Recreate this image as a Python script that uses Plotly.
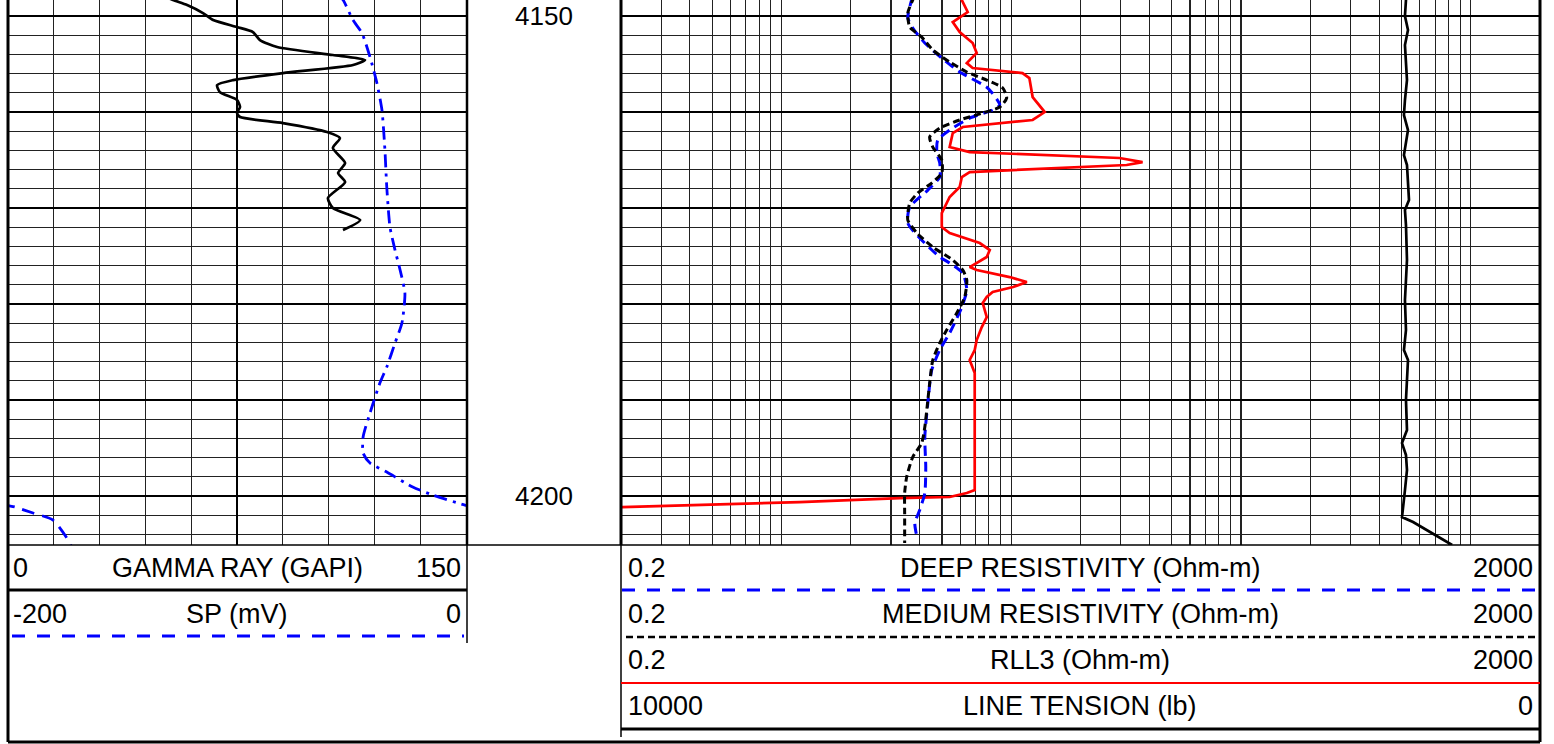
import math
import plotly.graph_objects as go

# ---------------- data ----------------
GR_DEPTH = [4147.9, 4148.33, 4148.85, 4149.69, 4150.42, 4151.15, 4151.67, 4152.5, 4153.23, 4154.06,
            4154.58, 4155.1, 4155.94, 4156.67, 4157.19, 4157.92, 4158.75, 4159.48, 4160.1, 4160.52,
            4161.15, 4162.08, 4162.71, 4163.75, 4165.31, 4166.35, 4167.29, 4168.96, 4170.0, 4171.25,
            4172.29]
GR = [51.0, 54.1, 58.7, 63.9, 67.2, 75.0, 80.2, 82.5, 88.1, 106.3,
      116.8, 112.9, 90.0, 73.7, 68.5, 69.4, 75.0, 76.0, 75.0, 76.0,
      90.0, 104.4, 108.6, 106.3, 110.3, 108.0, 110.3, 104.7, 106.3, 115.2,
      109.6]

SP_DEPTH = [4147.9, 4148.33, 4150.42, 4151.77, 4154.27, 4156.98, 4159.79, 4163.96, 4167.81, 4171.98,
            4174.38, 4176.46, 4178.85, 4181.98, 4184.06, 4186.56, 4188.23, 4191.35, 4193.85, 4195.52,
            4196.56, 4197.5, 4199.06, 4199.9, 4200.94, 4201.15, 4201.77, 4202.5, 4204.9, 4205.4]
SP = [-55.5, -53.8, -49.5, -45.6, -42.1, -39.1, -36.9, -35.6, -34.8, -33.4,
      -31.2, -29.0, -26.9, -28.2, -31.2, -34.8, -37.8, -42.1, -45.1, -45.1,
      -42.1, -34.8, -23.5, -14.7, -0.8, 3.4, 11.2, 19.9, 27.3, 28.0]

MED_DEPTH = [4148.0, 4148.33, 4149.69, 4151.15, 4152.19, 4153.54, 4154.79, 4155.83, 4156.67, 4157.5, 4158.54,
             4159.48, 4160.1, 4160.83, 4161.67, 4162.6, 4163.65, 4165.0, 4166.35, 4167.4, 4168.44,
             4169.48, 4171.25, 4172.6, 4174.06, 4175.42, 4176.46, 4177.5, 4179.27, 4180.94, 4182.71,
             4184.06, 4185.83, 4188.23, 4190.0, 4192.81, 4194.48, 4195.94, 4198.02, 4199.69, 4201.77,
             4204.9]
MEDIUM = [3.80, 3.73, 3.55, 3.62, 4.08, 4.56, 5.40, 6.41, 7.83, 9.19, 9.56,
          8.92, 7.52, 5.97, 4.89, 4.42, 4.56, 4.99, 4.99, 4.51, 3.92,
          3.62, 3.55, 3.89, 4.56, 5.57, 6.16, 6.41, 6.28, 5.80, 5.24,
          4.89, 4.56, 4.42, 4.34, 4.21, 4.08, 3.73, 3.51, 3.44, 3.44,
          3.44]

DEEP_DEPTH = [4148.0, 4148.33, 4150.21, 4151.25, 4152.81, 4154.38, 4155.83, 4157.5, 4159.27, 4159.79, 4160.63,
              4161.88, 4162.92, 4164.27, 4165.31, 4166.77, 4168.13, 4169.9, 4171.56, 4173.13, 4175.1,
              4175.73, 4176.77, 4178.54, 4180.31, 4183.02, 4184.79, 4186.88, 4190.31, 4193.85, 4196.98,
              4199.69, 4201.46, 4202.81, 4204.27]
DEEP = [3.75, 3.69, 3.55, 3.73, 4.21, 4.99, 5.97, 7.91, 8.92, 8.31, 6.60,
        5.40, 4.79, 4.75, 4.89, 4.89, 4.34, 3.62, 3.55, 4.00, 4.89,
        5.40, 6.16, 6.41, 6.10, 5.40, 4.89, 4.51, 4.34, 4.21, 4.25,
        4.21, 4.00, 3.81, 3.89]

RLL3_DEPTH = [4148.0, 4148.33, 4149.58, 4150.63, 4151.67, 4152.81, 4153.85, 4154.9, 4155.42, 4155.94, 4156.46,
              4158.44, 4160.0, 4160.83, 4161.56, 4162.19, 4163.65, 4164.17, 4164.79, 4165.21, 4165.52,
              4166.25, 4166.77, 4167.81, 4168.85, 4170.52, 4171.98, 4172.6, 4173.65, 4174.38, 4175.1,
              4176.15, 4176.46, 4177.19, 4177.71, 4178.23, 4178.75, 4179.27, 4179.9, 4181.35, 4182.4,
              4183.75, 4184.79, 4185.83, 4186.56, 4187.19, 4199.38, 4199.69, 4200.1, 4200.21, 4200.63,
              4200.94, 4201.15, 4201.25]
RLL3 = [6.0, 6.10, 6.47, 5.57, 5.97, 6.80, 7.08, 6.41, 6.80, 11.2, 12.0,
        12.4, 14.0, 12.4, 6.16, 5.57, 5.40, 6.60, 29.6, 37.3, 31.8,
        6.60, 6.10, 5.97, 5.40, 4.99, 4.99, 5.40, 7.30, 8.07, 7.83,
        6.60, 7.08, 9.85, 11.7, 10.2, 8.31, 7.83, 7.52, 7.83, 7.45,
        7.08, 6.94, 6.60, 6.80, 6.94, 6.94, 6.41, 5.40, 3.28, 1.20,
        0.373, 0.2026, 0.18]

TEN_DEPTH = [4148.0, 4148.33, 4150.0, 4151.46, 4153.02, 4154.58, 4156.67, 4158.75, 4160.31, 4161.88, 4163.44,
             4164.48, 4165.52, 4168.13, 4169.17, 4170.21, 4171.77, 4175.42, 4177.5, 4179.58, 4182.71,
             4184.79, 4185.83, 4187.92, 4190.0, 4193.13, 4194.48, 4195.73, 4197.29, 4199.38, 4200.94,
             4202.19, 4202.71, 4205.1]
TENSION = [1460, 1458, 1469, 1436, 1469, 1458, 1447, 1469, 1480, 1436, 1458,
           1480, 1447, 1436, 1425, 1469, 1458, 1447, 1458, 1469, 1458,
           1480, 1436, 1447, 1458, 1447, 1501, 1458, 1447, 1469, 1490,
           1501, 1381, 956]

DEPTH_RANGE = [4205.1, 4148.33]
GR_RANGE = [0, 150]
SP_RANGE = [-200, 0]
RES_RANGE = [0.2, 2000]
TEN_RANGE = [10000, 0]
DEPTH_LABELS = [4150, 4200]

# ---------------- layout helpers ----------------
W, H = 1554, 744
FONT = "Liberation Sans, Arial, sans-serif"
FS = 27


def px(x):
    return x / W


def py(y):
    return 1 - y / H


fig = go.Figure()

# Gamma ray
fig.add_trace(go.Scatter(x=GR, y=GR_DEPTH, xaxis="x", yaxis="y", mode="lines",
                         line=dict(color="black", width=2.7, shape="spline", smoothing=0.6),
                         hoverinfo="skip"))
# SP (and its wrap-around backup)
sp_dash = "13px,6px,3px,6px"
fig.add_trace(go.Scatter(x=SP, y=SP_DEPTH, xaxis="x2", yaxis="y", mode="lines",
                         line=dict(color="#0000ff", width=2.8, dash=sp_dash, shape="spline", smoothing=0.6),
                         hoverinfo="skip"))
fig.add_trace(go.Scatter(x=[v - (SP_RANGE[1] - SP_RANGE[0]) for v in SP], y=SP_DEPTH, xaxis="x2", yaxis="y",
                         mode="lines",
                         line=dict(color="#0000ff", width=2.8, dash="13px,8px", shape="spline", smoothing=0.6),
                         hoverinfo="skip"))
# Resistivities
fig.add_trace(go.Scatter(x=RLL3, y=RLL3_DEPTH, xaxis="x3", yaxis="y2", mode="lines",
                         line=dict(color="#ff0000", width=2.7),
                         hoverinfo="skip"))
fig.add_trace(go.Scatter(x=DEEP, y=DEEP_DEPTH, xaxis="x3", yaxis="y2", mode="lines",
                         line=dict(color="#0000ff", width=3, dash="10px,6px", shape="spline", smoothing=0.6),
                         hoverinfo="skip"))
fig.add_trace(go.Scatter(x=MEDIUM, y=MED_DEPTH, xaxis="x3", yaxis="y2", mode="lines",
                         line=dict(color="black", width=3, dash="7px,4px", shape="spline", smoothing=0.6),
                         hoverinfo="skip"))
# Line tension
fig.add_trace(go.Scatter(x=TENSION, y=TEN_DEPTH, xaxis="x4", yaxis="y2", mode="lines",
                         line=dict(color="black", width=2.7),
                         hoverinfo="skip"))

track_top, track_bot = 0, 545
ydom = [py(track_bot), py(track_top)]

yaxis_common = dict(domain=ydom, range=DEPTH_RANGE, dtick=10, tick0=4150, showgrid=True,
                    gridcolor="#000000", gridwidth=2.2,
                    minor=dict(dtick=2, showgrid=True, gridcolor="#222222", gridwidth=1.1, ticks=""),
                    showticklabels=False, ticks="", zeroline=False, showline=False, fixedrange=True)

fig.update_layout(
    width=W, height=H, margin=dict(l=0, r=0, t=0, b=0),
    paper_bgcolor="white", plot_bgcolor="white", showlegend=False,
    font=dict(family=FONT, size=FS, color="black"),
    xaxis=dict(domain=[px(7.3), px(466.7)], range=GR_RANGE, anchor="y", showgrid=True,
               dtick=75, tick0=0, gridcolor="#000000", gridwidth=2,
               minor=dict(dtick=15, showgrid=True, gridcolor="#222222", gridwidth=1.1, ticks=""),
               showticklabels=False, ticks="", zeroline=False, showline=False, fixedrange=True),
    xaxis2=dict(overlaying="x", range=SP_RANGE, anchor="y", visible=False, fixedrange=True),
    yaxis=dict(anchor="x", **yaxis_common),
    xaxis3=dict(domain=[px(620.7), px(1540)], type="log",
                range=[math.log10(RES_RANGE[0]), math.log10(RES_RANGE[1])], anchor="y2",
                dtick="D1", showgrid=True, gridcolor="#222222", gridwidth=1.1,
                showticklabels=False, ticks="", zeroline=False, showline=False, fixedrange=True),
    xaxis4=dict(overlaying="x3", range=TEN_RANGE, anchor="y2", visible=False, fixedrange=True),
    yaxis2=dict(anchor="x3", **yaxis_common),
)

shapes = []


def hline(x0, x1, y, width=1.5, color="black", dash=None):
    ln = dict(color=color, width=width)
    if dash:
        ln["dash"] = dash
    shapes.append(dict(type="line", xref="paper", yref="paper", x0=px(x0), x1=px(x1),
                       y0=py(y), y1=py(y), line=ln, layer="above"))


def vline(x, y0, y1, width=1.5, color="black"):
    shapes.append(dict(type="line", xref="paper", yref="paper", x0=px(x), x1=px(x),
                       y0=py(y0), y1=py(y1), line=dict(color=color, width=width), layer="above"))


# borders
vline(8, 0, 742, 3)
vline(1540, 0, 742, 3)
hline(8, 1540, 742, 3)
vline(467, 0, 545, 2.5)
vline(467, 545, 643, 1.5)
vline(621, 0, 545, 3)
vline(621, 545, 737, 1.5)
hline(8, 1540, 545, 1.5)

# header legend lines
hline(8, 467, 590, 3, "black")
hline(12, 464, 636, 3, "#0000ff", "13px,12px")
hline(622, 1538, 590, 3, "#0000ff", "13px,12px")
hline(626, 1540, 637, 2.5, "black", "7px,4px")
hline(621, 1540, 683, 2.2, "#ff0000")
hline(621, 1540, 729, 3, "black")

fig.update_layout(shapes=shapes)

ann = []


def text(x, y, s, anchor, size=FS):
    ann.append(dict(xref="paper", yref="paper", x=px(x), y=py(y), text=s, showarrow=False,
                    xanchor=anchor, yanchor="middle", font=dict(family=FONT, size=size, color="black")))


rows_left = [("0", "GAMMA RAY (GAPI)", "150", 568), ("-200", "SP (mV)", "0", 614)]
for lo, title, hi, y in rows_left:
    text(11, y, lo, "left")
    text(237, y, title, "center")
    text(463, y, hi, "right")

rows_right = [("0.2", "DEEP RESISTIVITY (Ohm-m)", "2000", 568),
              ("0.2", "MEDIUM RESISTIVITY (Ohm-m)", "2000", 614),
              ("0.2", "RLL3 (Ohm-m)", "2000", 660),
              ("10000", "LINE TENSION (lb)", "0", 706)]
for lo, title, hi, y in rows_right:
    text(626, y, lo, "left")
    text(1080, y, title, "center")
    text(1535, y, hi, "right")

for d in DEPTH_LABELS:
    ann.append(dict(xref="paper", yref="y", x=px(544), y=d, text=str(d), showarrow=False,
                    xanchor="center", yanchor="middle", font=dict(family=FONT, size=26, color="black")))

fig.update_layout(annotations=ann)

fig.write_html("out.html",
               config={"displayModeBar": False, "staticPlot": True},
               post_script="document.body.style.margin='0';document.body.style.overflow='hidden';")
